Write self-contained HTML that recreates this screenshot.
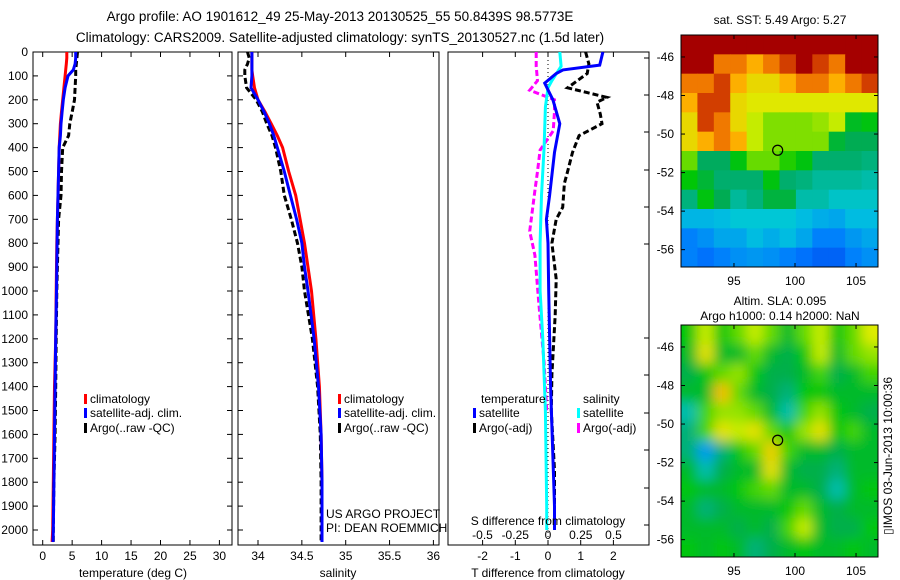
<!DOCTYPE html>
<html><head><meta charset="utf-8"><style>
body{margin:0;background:#fff;}
svg{display:block;font-family:"Liberation Sans",sans-serif;}
</style></head><body>
<svg id="fig" width="900" height="580" viewBox="0 0 900 580">
<defs>
<clipPath id="c1"><rect x="681" y="35" width="197" height="232"/></clipPath>
<clipPath id="c2"><rect x="681" y="325" width="197" height="232"/></clipPath>
<filter id="blur"><feGaussianBlur stdDeviation="6"/></filter>
</defs>
<text x="340" y="21" font-size="13.5" text-anchor="middle">Argo profile: AO 1901612_49 25-May-2013 20130525_55 50.8439S 98.5773E</text>
<text x="340" y="42" font-size="13.5" text-anchor="middle">Climatology: CARS2009. Satellite-adjusted climatology: synTS_20130527.nc (1.5d later)</text>
<g id="plots"></g>
</svg>
<script>
// ---- profile data ----
const depths = [0,25,50,75,100,150,200,250,300,350,400,500,600,700,800,900,1000,1200,1400,1600,1800,2000,2050];
const tempClim = [4.1,4.1,4.0,3.9,3.8,3.6,3.4,3.2,3.0,2.9,2.8,2.7,2.6,2.5,2.4,2.35,2.3,2.2,2.0,1.9,1.8,1.7,1.6];
const tempSat = [5.6,5.6,5.5,5.2,4.3,3.8,3.5,3.3,3.1,3.0,2.8,2.7,2.6,2.5,2.45,2.4,2.35,2.2,2.1,2.0,1.9,1.8,1.75];
const tempArgo = [5.9,5.8,5.7,5.6,5.6,5.5,5.4,5.0,4.6,4.4,3.4,3.2,3.1,2.7,2.6,2.5,2.4,2.3,2.2,2.1,1.9,1.8,1.8];
const salClim = [33.93,33.93,33.93,33.93,33.94,33.96,34.0,34.08,34.15,34.22,34.28,34.35,34.43,34.48,34.53,34.57,34.61,34.66,34.7,34.72,34.73,34.73,34.73];
const salSat = [33.93,33.93,33.93,33.93,33.93,33.92,34.0,34.07,34.13,34.18,34.22,34.3,34.37,34.44,34.5,34.53,34.57,34.64,34.69,34.72,34.73,34.73,34.73];
const salArgo = [33.88,33.9,33.88,33.85,33.85,33.87,33.98,34.05,34.1,34.16,34.2,34.26,34.3,34.38,34.45,34.5,34.53,34.62,34.68,34.71,34.72,34.72,34.72];
const tdSatDepth = [0,55,75,90,130,200,300,420,600,700,800,1000,1400,1900,2000];
const tdSat = [1.68,1.58,0.46,0.25,-0.1,0.15,0.36,0.2,0.05,-0.05,0,0.02,0.08,0.2,0.2];
const tdArgoDepth = [0,50,90,150,170,190,210,260,300,350,420,500,550,650,700,800,950,1100,1350,1500,1750,1950];
const tdArgo = [1.15,1.25,1.2,0.6,1.2,1.8,1.5,1.6,1.65,0.95,0.75,0.6,0.5,0.45,0.25,0.12,0.25,0.22,0.12,0.1,0.2,0.2];
const sdSatDepth = [0,60,120,150,230,400,600,800,1000,1200,1500,1900,2000];
const sdSat = [0.09,0.1,0.03,0.0,-0.02,-0.03,-0.05,-0.06,-0.06,-0.04,-0.02,-0.01,-0.01];
const sdArgoDepth = [0,60,120,160,200,250,330,410,500,580,750,850,1050,1300,1500];
const sdArgo = [-0.09,-0.09,-0.08,-0.14,0.05,0.05,0.04,-0.06,-0.08,-0.1,-0.14,-0.1,-0.07,-0.03,-0.01];
const depthTicks = [0,100,200,300,400,500,600,700,800,900,1000,1100,1200,1300,1400,1500,1600,1700,1800,1900,2000];
const tempTicks = [0,5,10,15,20,25,30];
const salTicks = [34,34.5,35,35.5,36];
const salTickLabels = ["34","34.5","35","35.5","36"];
const tdTicks = [-2,-1,0,1,2];
const sdTicks = [-0.5,-0.25,0,0.25,0.5];
const sdTickLabels = ["-0.5","-0.25","0","0.25","0.5"];
// ---- map data ----
const lonTicks = [95,100,105];
const latTicks = [-46,-48,-50,-52,-54,-56];
const argoLon = 98.58, argoLat = -50.84;
const sstGrid = [
[9,9,9,9,9,9,9,9,9,9,9,9],
[9,9,8,8,7.5,8,8.5,9,8.5,8,9,9],
[8,8,8.5,7.5,7,7,7.5,8,8,7.5,8,8.5],
[7.5,8.5,8.5,7,6.8,6.8,6.8,6.8,6.8,6.8,6.8,6.8],
[7,8.5,8,7,6.6,6.3,6.3,6.3,6.4,6.6,5.4,5.6],
[7,7.5,8,7.5,6.6,6.3,6.3,6.3,6.3,5.2,4.9,4.9],
[6.2,4.8,4.8,5.6,6.2,6.2,5.9,5.6,4.7,4.7,4.7,4.6],
[5.7,5.2,4.7,4.7,4.7,5.6,4.7,4.6,4.4,4.4,4.4,4.3],
[4.6,5.6,4.9,4.4,4.6,5.1,5.1,4.3,4.3,4.1,4.1,4.1],
[3.7,3.7,3.8,4,4,4,4,3.8,3.6,3.5,3.8,3.8],
[3,3.2,3.5,3.5,3.8,3.6,3.8,3.5,3,3,3.3,3.5],
[3,2.8,3,3.2,3.3,3.2,3,2.8,2.6,2.6,3,3.2]];
const slaGrid = [
[0.55,0.68,0.55,0.62,0.68,0.62,0.5,0.62,0.68,0.55,0.62,0.7],
[0.5,0.72,0.5,0.5,0.62,0.5,0.45,0.55,0.68,0.5,0.62,0.65],
[0.45,0.55,0.62,0.65,0.55,0.45,0.45,0.5,0.6,0.45,0.5,0.6],
[0.5,0.5,0.78,0.62,0.5,0.45,0.4,0.55,0.55,0.5,0.5,0.5],
[0.35,0.6,0.65,0.65,0.62,0.5,0.35,0.6,0.65,0.55,0.5,0.45],
[0.4,0.6,0.72,0.68,0.72,0.62,0.55,0.65,0.72,0.55,0.6,0.5],
[0.4,0.22,0.4,0.55,0.62,0.75,0.6,0.5,0.5,0.45,0.5,0.5],
[0.5,0.35,0.45,0.5,0.5,0.72,0.5,0.45,0.45,0.4,0.5,0.5],
[0.55,0.5,0.5,0.55,0.6,0.62,0.5,0.5,0.45,0.35,0.5,0.55],
[0.5,0.4,0.45,0.5,0.5,0.5,0.55,0.62,0.5,0.45,0.5,0.5],
[0.5,0.5,0.5,0.45,0.5,0.45,0.6,0.68,0.5,0.45,0.45,0.55],
[0.55,0.5,0.55,0.5,0.4,0.45,0.5,0.55,0.5,0.5,0.55,0.5]];

const NS="http://www.w3.org/2000/svg";
const root=document.getElementById('plots');
function mk(tag,attrs,parent){const e=document.createElementNS(NS,tag);for(const k in attrs)e.setAttribute(k,attrs[k]);(parent||root).appendChild(e);return e;}
function txt(x,y,s,size,anchor,parent){const t=mk('text',{x:x,y:y,'font-size':size,'text-anchor':anchor||'middle'},parent);t.textContent=s;return t;}
const yD=d=>52+d*0.239;
const TOP=52,BOT=545;
const xT=t=>42.7+5.89*t;
const xS=s=>258+87.7*(s-34);
const xTD=v=>548+32.7*v;
const xSD=v=>548+131*v;

function frame(x0,x1,name){
  const r=mk('rect',{x:x0,y:TOP,width:x1-x0,height:BOT-TOP,fill:'none',stroke:'#000','stroke-width':1});
  
  
}
function line(xs,ds,fx,color,dash,name){
  const pts=xs.map((v,i)=>fx(v).toFixed(1)+','+yD(ds[i]).toFixed(1)).join(' ');
  const p=mk('polyline',{points:pts,fill:'none',stroke:color,'stroke-width':3,'stroke-dasharray':dash||'none'});
  
  
}
function xticks(ticks,labels,fx,y,name){
  ticks.forEach((t,i)=>{
    const x=fx(t);
    mk('line',{x1:x,x2:x,y1:BOT,y2:BOT-5,stroke:'#000'});
    mk('line',{x1:x,x2:x,y1:TOP,y2:TOP+5,stroke:'#000'});
    const l=txt(x,y,labels[i],12);
    
    
  });
}
// Panel 1
frame(33,232,'temperature-panel');
depthTicks.forEach(d=>{
  const y=yD(d);
  mk('line',{x1:33,x2:38,y1:y,y2:y,stroke:'#000'});
  mk('line',{x1:227,x2:232,y1:y,y2:y,stroke:'#000'});
  mk('line',{x1:238,x2:243,y1:y,y2:y,stroke:'#000'});
  const l=txt(28,y+4,String(d),12,'end');
  
  
});
xticks(tempTicks,tempTicks.map(String),xT,560,'temperature-tick-label');
line(tempClim,depths,xT,'#f00',null,'temp-climatology-line');
line(tempArgo,depths,xT,'#000','6,3','temp-argo-line');
line(tempSat,depths,xT,'#00f',null,'temp-satellite-line');
let t=txt(133,577,'temperature (deg C)',12);
// Panel 2
frame(238,439,'salinity-panel');
xticks(salTicks,salTickLabels,xS,560,'salinity-tick-label');
line(salClim,depths,xS,'#f00',null,'sal-climatology-line');
line(salArgo,depths,xS,'#000','6,3','sal-argo-line');
line(salSat,depths,xS,'#00f',null,'sal-satellite-line');
t=txt(338,577,'salinity',12);
t=txt(326,518,'US ARGO PROJECT',12,'start');
t=txt(326,532,'PI: DEAN ROEMMICH',12,'start');
function leg(x,y,color,label,name){
  const r=mk('rect',{x:x,y:y-9,width:3,height:10,fill:color});
  
  
  const l=txt(x+6,y,label,12,'start');
  
  
}
[[84,'legend-temp'],[338,'legend-sal']].forEach(([x,n])=>{
  leg(x,403,'#f00','climatology',n+'-climatology');
  leg(x,417,'#00f','satellite-adj. clim.',n+'-satellite');
  leg(x,432,'#000','Argo(..raw -QC)',n+'-argo');
});
// Panel 3
frame(448,649,'difference-panel');
[58,95,132,170,207,244,338,375,413,450,488,525].forEach(y=>{mk('line',{x1:644,x2:649,y1:y,y2:y,stroke:'#000'});});
mk('line',{x1:548,x2:548,y1:TOP,y2:BOT,stroke:'#000','stroke-dasharray':'1,3'});
xticks(tdTicks,tdTicks.map(String),xTD,560,'t-diff-tick-label');
sdTicks.forEach((v,i)=>{const l=txt(xSD(v),539,sdTickLabels[i],12);});
line(sdArgo,sdArgoDepth,xSD,'#f0f','6,3','s-diff-argo-line');
line(sdSat,sdSatDepth,xSD,'#0ff',null,'s-diff-satellite-line');
line(tdArgo,tdArgoDepth,xTD,'#000','6,3','t-diff-argo-line');
line(tdSat,tdSatDepth,xTD,'#00f',null,'t-diff-satellite-line');
t=txt(548,525,'S difference from climatology',12);
t=txt(548,577,'T difference from climatology',12);
t=txt(481,403,'temperature',12,'start');
t=txt(583,403,'salinity',12,'start');
leg(473,417,'#00f','satellite','legend-tdiff-satellite');
leg(473,432,'#000','Argo(-adj)','legend-tdiff-argo');
leg(577,417,'#0ff','satellite','legend-sdiff-satellite');
leg(577,432,'#f0f','Argo(-adj)','legend-sdiff-argo');
// ---- maps ----
const cmapStops=[[0,[0,40,220]],[0.15,[0,120,255]],[0.3,[0,200,220]],[0.42,[0,170,90]],[0.55,[0,200,0]],[0.68,[220,240,0]],[0.8,[255,170,0]],[0.9,[230,90,0]],[1,[165,0,0]]];
function cmap(v){
  v=Math.max(0,Math.min(1,v));
  for(let i=1;i<cmapStops.length;i++){
    if(v<=cmapStops[i][0]){
      const [a,ca]=cmapStops[i-1],[b,cb]=cmapStops[i];const f=(v-a)/(b-a);
      return `rgb(${ca.map((c,k)=>Math.round(c+(cb[k]-c)*f)).join(',')})`;
    }
  }
  return 'rgb(165,0,0)';
}
const LON0=90.66,LON1=106.8,LAT0=-44.86,LAT1=-56.9;
function map(y0,grid,vmin,vmax,clip,blur,name){
  const xL=lon=>681+(lon-LON0)*197/(LON1-LON0);
  const yL=lat=>y0+(lat-LAT0)*232/(LAT1-LAT0);
  const g=mk('g',{'clip-path':`url(#${clip})`});
  
  
  const inner=mk('g',blur?{filter:'url(#blur)'}:{},g);
  const nr=grid.length,nc=grid[0].length;
  const dLon=(LON1-LON0)/nc,dLat=(LAT1-LAT0)/nr;
  grid.forEach((row,i)=>row.forEach((v,j)=>{
    let x=xL(LON0+j*dLon),y=yL(LAT0+i*dLat);
    let w=xL(LON0+(j+1)*dLon)-x,h=yL(LAT0+(i+1)*dLat)-y;
    if(blur){if(j==0){x-=20;w+=20;} if(j==nc-1)w+=20; if(i==0){y-=20;h+=20;} if(i==nr-1)h+=20;}
    const c=mk('rect',{x:x,y:y,width:w+0.5,height:h+0.5,fill:cmap((v-vmin)/(vmax-vmin))},inner);
    
    
  }));
  mk('rect',{x:681,y:y0,width:197,height:232,fill:'none',stroke:'#000'});
  lonTicks.forEach(l=>{const x=xL(l);mk('line',{x1:x,x2:x,y1:y0,y2:y0+4,stroke:'#000'});mk('line',{x1:x,x2:x,y1:y0+232,y2:y0+228,stroke:'#000'});
    const tl=txt(x,y0+250,String(l),12);});
  latTicks.forEach(l=>{const y=yL(l);mk('line',{x1:681,x2:685,y1:y,y2:y,stroke:'#000'});mk('line',{x1:878,x2:874,y1:y,y2:y,stroke:'#000'});
    const tl=txt(674,y+4,String(l),12,'end');});
  const c=mk('circle',{cx:xL(argoLon),cy:yL(argoLat),r:5,fill:'none',stroke:'#000','stroke-width':1.2});
  
  
}
map(35,sstGrid,1.8,9,'c1',false,'sst-map');
map(325,slaGrid,0,1.02,'c2',true,'sla-map');
t=txt(780,24,'sat. SST: 5.49 Argo: 5.27',12);
t=txt(780,305,'Altim. SLA: 0.095',12);
t=txt(780,320,'Argo h1000: 0.14 h2000: NaN',12);
t=mk('text',{x:0,y:0,'font-size':12,'text-anchor':'middle',transform:'translate(892,456) rotate(-90)'});
t.textContent='▯IMOS 03-Jun-2013 10:00:36';


</script>
</body></html>
